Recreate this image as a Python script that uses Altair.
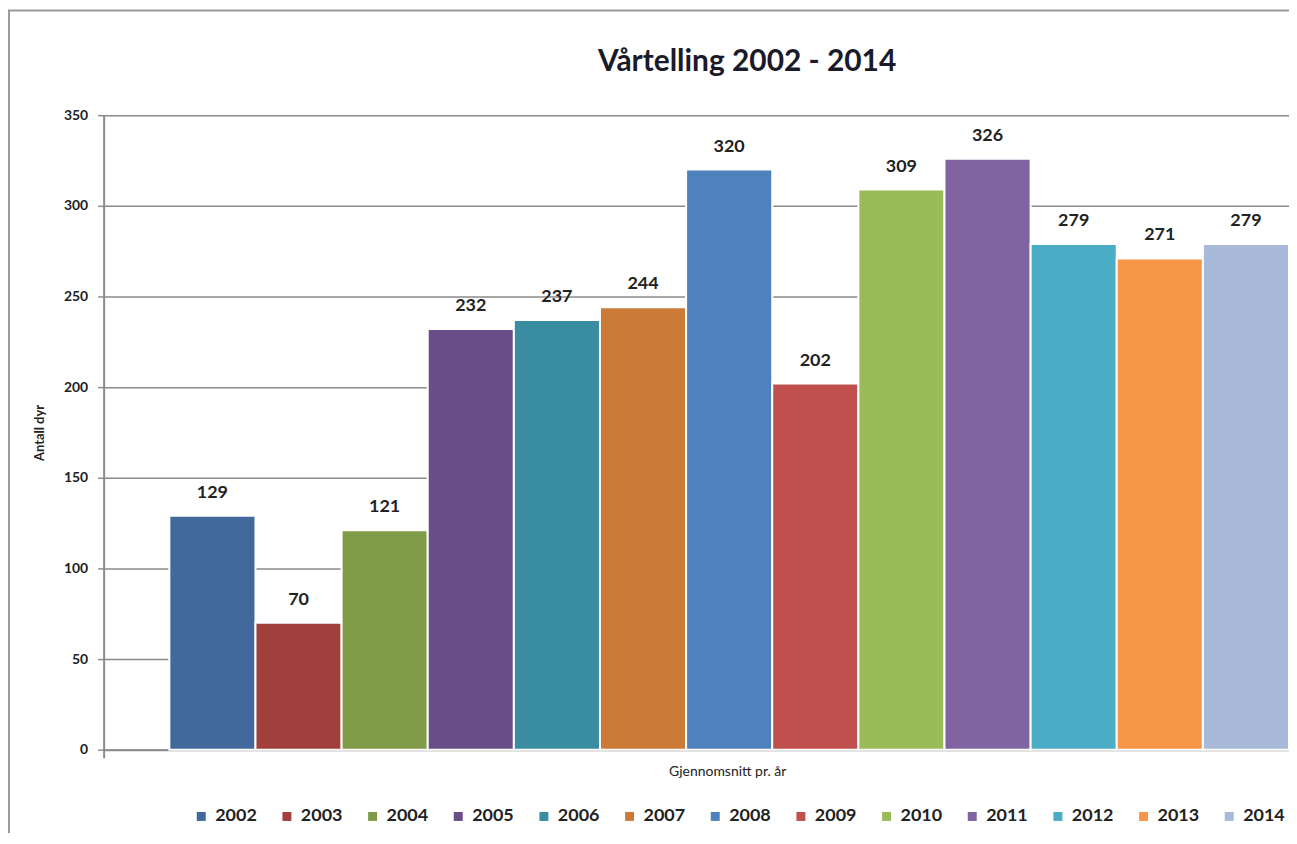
import altair as alt
import pandas as pd

# ---- data ----
years = ["2002", "2003", "2004", "2005", "2006", "2007", "2008",
         "2009", "2010", "2011", "2012", "2013", "2014"]
values = [129, 70, 121, 232, 237, 244, 320, 202, 309, 326, 279, 271, 279]
colors = ["#41699B", "#A03F3C", "#7F9B48", "#6A4E89", "#3A8DA1", "#CC7A38",
          "#4F81BD", "#C0504D", "#9BBB59", "#8064A2", "#4BACC6", "#F79646",
          "#A9B9D9"]
y_ticks = [0, 50, 100, 150, 200, 250, 300, 350]
category = "Gjennomsnitt pr. år"
title_text = "Vårtelling 2002 - 2014"
y_title = "Antall dyr"

df = pd.DataFrame({"year": years, "value": values})
df["start"] = list(range(len(years)))
df["end"] = df["start"] + 1
df["mid"] = df["start"] + 0.5

W, H = 1190, 637
FONT = "Lato"
GREY = "#8a8a8a"
x_min = -0.763

x_scale = alt.Scale(domain=[x_min, len(years)], nice=False, zero=False)
y_scale = alt.Scale(domain=[0, 350], nice=False)

one = pd.DataFrame({"k": [0]})

frame = alt.Chart(one).mark_rect(
    fill=None, stroke="#9a9a9a", strokeWidth=2
).encode(
    x=alt.value(-95), x2=alt.value(W + 60),
    y=alt.value(-105), y2=alt.value(H + 400)
)

title = alt.Chart(one).mark_text(
    font=FONT, fontSize=30, fontWeight="bold", color="#1a1a2a",
    baseline="alphabetic", align="center"
).encode(
    x=alt.value(646), y=alt.value(-44), text=alt.value(title_text)
)

bars = alt.Chart(df).mark_bar(stroke="white", strokeWidth=2).encode(
    x=alt.X("start:Q", scale=x_scale,
            axis=alt.Axis(title=category, labels=False, grid=False,
                          values=[x_min], tickSize=8, tickColor=GREY,
                          tickWidth=2, domainColor=GREY, domainWidth=2,
                          titleX=626, titleY=22, titleBaseline="middle",
                          titleFont=FONT, titleFontSize=14,
                          titleFontWeight="normal", titleColor="#222")),
    x2="end:Q",
    y=alt.Y("value:Q", scale=y_scale,
            axis=alt.Axis(values=y_ticks, title=y_title, grid=True,
                          gridColor=GREY, gridWidth=1.5,
                          domainColor=GREY, domainWidth=2,
                          tickColor=GREY, tickWidth=1.5, tickSize=6,
                          labelFont=FONT, labelFontSize=14,
                          labelFontWeight="bold", labelColor="#222",
                          labelPadding=10,
                          titleFont=FONT, titleFontSize=13,
                          titleFontWeight="bold", titleColor="#222",
                          titleX=-64, titleY=H / 2, titleAngle=-90,
                          titleBaseline="middle")),
    y2=alt.datum(0),
    color=alt.Color("year:N", scale=alt.Scale(domain=years, range=colors),
                    legend=alt.Legend(title=None, orient="none",
                                      legendX=89, legendY=695,
                                      direction="horizontal", columns=13,
                                      symbolType="square", symbolSize=81,
                                      symbolStrokeWidth=0,
                                      labelFont=FONT, labelFontSize=18,
                                      labelFontWeight="bold",
                                      labelColor="#222", labelOffset=5,
                                      columnPadding=21)),
)

labels = alt.Chart(df).mark_text(
    baseline="bottom", dy=-14, font=FONT, fontSize=18, fontWeight="bold",
    color="#222"
).encode(
    x=alt.X("mid:Q", scale=x_scale),
    y=alt.Y("value:Q", scale=y_scale),
    text="value:Q",
)

chart = alt.layer(frame, title, bars, labels).properties(
    width=W, height=H,
    autosize=alt.AutoSizeParams(type="none"),
    padding={"left": 96, "top": 106, "right": 0, "bottom": 82},
).configure_view(stroke=None)

chart.save("out.html", embed_options={"renderer": "svg", "actions": False})
